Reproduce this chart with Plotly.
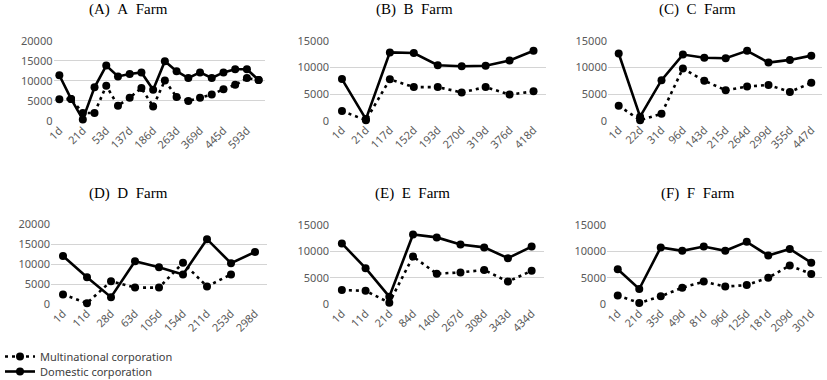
import plotly.graph_objects as go

W, H = 827, 380

# ---- data ----
A_ticks = ["1d", "21d", "53d", "137d", "186d", "263d", "369d", "445d", "593d"]  # shown every other sample
A_multi = [5400, 5500, 2000, 2000, 8800, 3800, 5800, 8200, 3600, 10100, 6000, 5000, 5800, 6600, 7900, 9000, 10700, 10200]
A_dom = [11400, 5500, 400, 8400, 13800, 11100, 11700, 12100, 7800, 14900, 12400, 10700, 12100, 10700, 12100, 12900, 12900, 10200]

B_cats = ["1d", "21d", "117d", "152d", "193d", "270d", "319d", "376d", "418d"]
B_multi = [1800, 100, 7750, 6300, 6300, 5300, 6300, 4900, 5500]
B_dom = [7800, 300, 12800, 12700, 10400, 10200, 10300, 11300, 13100]

C_cats = ["1d", "22d", "31d", "96d", "143d", "215d", "264d", "299d", "355d", "447d"]
C_multi = [2800, 100, 1300, 9800, 7500, 5700, 6400, 6700, 5400, 7100]
C_dom = [12600, 750, 7600, 12400, 11800, 11700, 13100, 10900, 11400, 12200]

D_cats = ["1d", "11d", "28d", "63d", "105d", "154d", "211d", "253d", "298d"]
D_multi = [2400, 200, 5700, 4100, 4100, 10300, 4400, 7400, None]
D_dom = [12000, 6700, 1700, 10700, 9200, 7400, 16200, 10200, 13000]

E_cats = ["1d", "11d", "21d", "84d", "140d", "267d", "308d", "343d", "434d"]
E_multi = [2650, 2500, 250, 9000, 5750, 6000, 6450, 4250, 6300]
E_dom = [11500, 6800, 1400, 13200, 12650, 11300, 10750, 8700, 10900]

F_cats = ["1d", "21d", "35d", "49d", "81d", "96d", "125d", "181d", "209d", "301d"]
F_multi = [1600, 200, 1450, 3100, 4250, 3300, 3600, 5000, 7300, 5700]
F_dom = [6600, 2850, 10750, 10100, 10900, 10100, 11800, 9200, 10450, 7850]

titles = ["(A)\u00a0\u00a0A\u00a0\u00a0Farm", "(B)\u00a0\u00a0B\u00a0\u00a0Farm", "(C)\u00a0\u00a0C\u00a0\u00a0Farm",
          "(D)\u00a0\u00a0D\u00a0\u00a0Farm", "(E)\u00a0\u00a0E\u00a0\u00a0Farm", "(F)\u00a0\u00a0F\u00a0\u00a0Farm"]

# ---- layout geometry (pixels) ----
panels = [
    dict(x=(53.5, 264.5), y=(40.7, 121), ymax=20000, t=(128.7, 9.5)),
    dict(x=(330, 545.5), y=(40.7, 120.7), ymax=15000, t=(414.7, 9.5)),
    dict(x=(608, 822), y=(40.7, 120.7), ymax=15000, t=(697, 9.5)),
    dict(x=(51, 267), y=(224, 304), ymax=20000, t=(128.3, 193)),
    dict(x=(330, 543.5), y=(225, 304), ymax=15000, t=(412, 193)),
    dict(x=(607, 822), y=(225, 304), ymax=15000, t=(697.5, 193)),
]

series = [
    (list(range(len(A_dom))), A_multi, A_dom),
    (B_cats, B_multi, B_dom),
    (C_cats, C_multi, C_dom),
    (D_cats, D_multi, D_dom),
    (E_cats, E_multi, E_dom),
    (F_cats, F_multi, F_dom),
]

fig = go.Figure()
grid = "#d4d4d4"
tickc = "#595959"
tickfont = dict(family="Noto Sans", size=11, color=tickc)

for i, (p, (xs, multi, dom)) in enumerate(zip(panels, series)):
    n = i + 1
    xa = "x" if n == 1 else f"x{n}"
    ya = "y" if n == 1 else f"y{n}"
    fig.add_trace(go.Scatter(
        x=xs, y=multi, xaxis=xa, yaxis=ya, mode="lines+markers",
        name="Multinational corporation", legend="legend", showlegend=(i == 0),
        line=dict(color="black", width=2.6, dash="3px,4px"),
        marker=dict(symbol="circle", size=8, color="black"), cliponaxis=False))
    fig.add_trace(go.Scatter(
        x=xs, y=dom, xaxis=xa, yaxis=ya, mode="lines+markers",
        name="Domestic corporation", legend="legend2", showlegend=(i == 0),
        line=dict(color="black", width=2.6),
        marker=dict(symbol="circle", size=8, color="black"), cliponaxis=False))

    ncat = len(xs)
    xaxis = dict(domain=[p["x"][0] / W, p["x"][1] / W], anchor=ya,
                 range=[-0.5, ncat - 0.5], showgrid=False, zeroline=False,
                 showline=False, ticks="", tickangle=-45, tickfont=tickfont,
                 fixedrange=True, automargin=False)
    if i == 0:
        xaxis.update(type="linear", tickmode="array",
                     tickvals=list(range(0, len(A_dom), 2)), ticktext=A_ticks)
    else:
        xaxis.update(type="category")
    yaxis = dict(domain=[1 - p["y"][1] / H, 1 - p["y"][0] / H], anchor=xa,
                 range=[0, p["ymax"]], dtick=5000, tickformat="d",
                 showgrid=True, gridcolor=grid, gridwidth=1.3,
                 zeroline=False, showline=False, ticks="",
                 tickfont=tickfont, fixedrange=True, automargin=False)
    fig.layout["xaxis" if n == 1 else f"xaxis{n}"] = xaxis
    fig.layout["yaxis" if n == 1 else f"yaxis{n}"] = yaxis

    fig.add_annotation(text=titles[i], xref="paper", yref="paper",
                       x=p["t"][0] / W, y=1 - p["t"][1] / H, xanchor="center", yanchor="middle",
                       showarrow=False,
                       font=dict(family="Liberation Serif", size=15, color="black"))

legfont = dict(family="Noto Sans", size=11, color="#404040")
fig.update_layout(
    width=W, height=H, margin=dict(l=0, r=0, t=0, b=0, autoexpand=False),
    paper_bgcolor="white", plot_bgcolor="white",
    legend=dict(x=0, y=1 - 342 / H, xanchor="left", yanchor="top",
                bgcolor="rgba(0,0,0,0)", font=legfont, itemwidth=30),
    legend2=dict(x=0, y=1 - 357 / H, xanchor="left", yanchor="top",
                 bgcolor="rgba(0,0,0,0)", font=legfont, itemwidth=30),
    showlegend=True,
)

fig.write_html("out.html", config={"displayModeBar": False},
               post_script="document.body.style.margin='0';document.body.style.overflow='hidden';")
